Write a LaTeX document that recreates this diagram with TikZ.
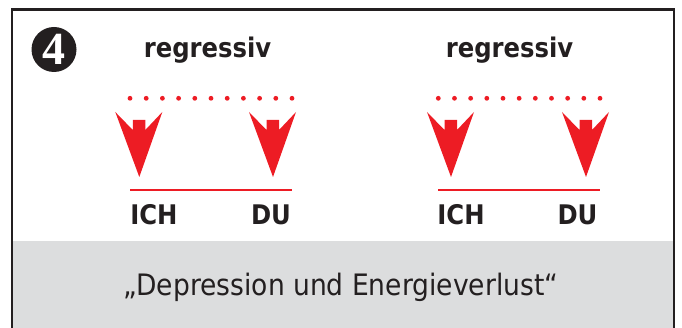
\documentclass[tikz,border=0pt]{standalone}
\usepackage{fontspec}
\setmainfont{DejaVu Sans Condensed}
\newfontfamily\numfont{Liberation Serif}
\definecolor{ink}{HTML}{231F20}
\definecolor{myred}{HTML}{ED1C24}
\definecolor{band}{HTML}{DCDDDE}
\tikzset{
  lbl/.style={anchor=base,inner sep=0pt,text=ink,font=\fontsize{27}{30}\selectfont\bfseries},
  caption/.style={anchor=base,inner sep=0pt,text=ink,font=\fontsize{29.5}{32}\selectfont},
  redline/.style={myred,line width=2.4pt},
  dot/.style={fill=myred,draw=none},
  arrowshape/.style={fill=myred,draw=none}
}
\newcommand{\redarrow}[2]{%
  \fill[arrowshape] (#1-24,112) -- (#1-6.5,130) -- (#1-6.5,120) -- (#1+6,120) -- (#1+6,130) -- (#1+23,112) -- (#1,177) -- cycle;
  \coordinate (#2) at (#1,177);}
\begin{document}
\begin{tikzpicture}[x=1pt,y=-1pt]
\useasboundingbox (0,0) rectangle (682,328);
% gray band
\fill[band] (12,241) rectangle (674,345);
% frame
\draw[ink,line width=2.6pt] (12,9.5) rectangle (674,345);
% number badge
\node[circle,fill=ink,minimum size=45pt,inner sep=0pt] (badge) at (54,49.5) {};
\node[text=white,inner sep=0pt,font=\numfont\fontsize{46}{46}\selectfont\bfseries] (num) at (54,49) {4};
% labels
\node[lbl] (reg1) at (207.5,57.7) {regressiv};
\node[lbl] (reg2) at (509.5,57.7) {regressiv};
% dots
\foreach \i in {0,...,10} {
  \fill[dot] (130+16.2*\i,98.3) circle (2.4);
  \fill[dot] (438.3+16.17*\i,98.3) circle (2.4);
}
% arrows
\redarrow{139.3}{a1}
\redarrow{273}{a2}
\redarrow{451}{a3}
\redarrow{586}{a4}
% baselines
\coordinate (l1a) at (130,190);
\coordinate (l1b) at (292,190);
\coordinate (l2a) at (438.3,190);
\coordinate (l2b) at (599.5,190);
\draw[redline] (l1a) -- (l1b);
\draw[redline] (l2a) -- (l2b);
% names
\node[lbl] (ich1) at (154,224.3) {ICH};
\node[lbl] (du1) at (271,224.3) {DU};
\node[lbl] (ich2) at (461,224.3) {ICH};
\node[lbl] (du2) at (577.5,224.3) {DU};
% caption
\node[caption] (cap) at (341,296) {„Depression und Energieverlust“};
\end{tikzpicture}
\end{document}
